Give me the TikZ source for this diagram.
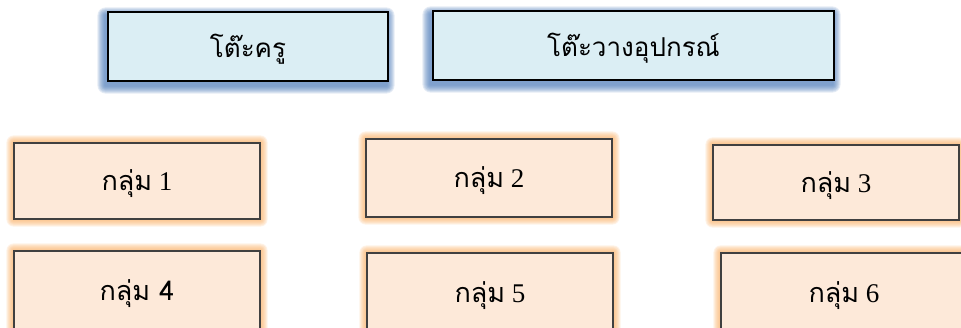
\documentclass[tikz,border=0pt]{standalone}
\usepackage{fontspec}
\setmainfont{Liberation Serif}
\newfontfamily\thaifont[Script=Thai]{Loma}
\usetikzlibrary{backgrounds}

\definecolor{deskfill}{RGB}{219,238,244}
\definecolor{deskglow}{RGB}{79,125,186}
\definecolor{groupfill}{RGB}{253,233,217}
\definecolor{groupline}{RGB}{64,64,64}
\definecolor{groupglow}{RGB}{250,180,110}

% labels sit a little below the box centre
\newcommand{\boxlabel}[1]{\raisebox{-3pt}[\height][\depth]{#1}}

\tikzset{
  deskbox/.style={draw=black, line width=1.1pt, fill=deskfill, inner sep=0pt,
    font=\thaifont\fontsize{26}{30}\selectfont},
  groupbox/.style={draw=groupline, line width=1.1pt, fill=groupfill, inner sep=0pt,
    minimum width=246pt, font=\fontsize{27}{31}\selectfont},
}

\begin{document}
\begin{tikzpicture}[x=1pt, y=-1pt]
  \useasboundingbox (0,0) rectangle (961,328);

  % teacher's desk and equipment table
  \node[deskbox, minimum width=280pt, minimum height=69pt] (desk) at (248,46.5) {\boxlabel{โต๊ะครู}};
  \node[deskbox, minimum width=401pt, minimum height=69pt] (tools) at (633.5,45.5) {\boxlabel{โต๊ะวางอุปกรณ์}};

  % student groups
  \node[groupbox, minimum height=76pt] (g1) at (137,181) {\boxlabel{{\thaifont กลุ่ม} 1}};
  \node[groupbox, minimum height=78pt] (g2) at (489,178) {\boxlabel{{\thaifont กลุ่ม} 2}};
  \node[groupbox, minimum height=75pt] (g3) at (836,182.5) {\boxlabel{{\thaifont กลุ่ม} 3}};
  \node[groupbox, minimum height=80pt] (g4) at (137,291) {\boxlabel{\thaifont กลุ่ม 4}};
  \node[groupbox, minimum height=80pt] (g5) at (490,293) {\boxlabel{{\thaifont กลุ่ม} 5}};
  \node[groupbox, minimum height=80pt] (g6) at (844,293) {\boxlabel{{\thaifont กลุ่ม} 6}};

  \begin{scope}[on background layer]
    % soft blue shadow under the desks
    \foreach \n in {desk,tools}{
      \foreach \i in {1,...,8}{
        \fill[deskglow, opacity=0.15, rounded corners=\i pt]
          ([xshift=-2pt-\i pt, yshift=-4pt-\i pt]\n.south west) rectangle
          ([xshift=-2pt+\i pt, yshift=-4pt+\i pt]\n.north east);
      }
    }
    % orange glow round the groups
    \foreach \n in {g1,g2,g3,g4,g5,g6}{
      \foreach \i in {1,...,7}{
        \fill[groupglow, opacity=0.17, rounded corners=\i pt]
          ([xshift=-\i pt, yshift=-\i pt]\n.south west) rectangle
          ([xshift=\i pt, yshift=\i pt]\n.north east);
      }
    }
  \end{scope}
\end{tikzpicture}
\end{document}
